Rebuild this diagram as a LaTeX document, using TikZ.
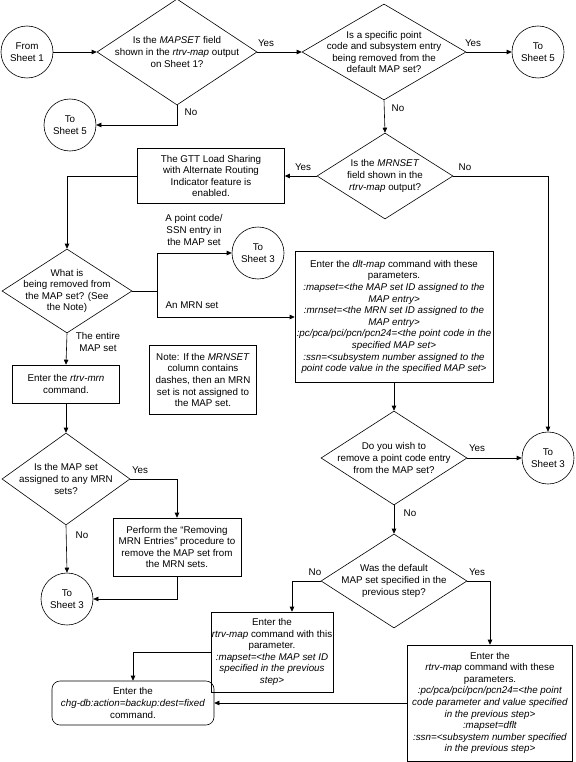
\documentclass[tikz,border=0pt]{standalone}
\usepackage{fontspec}
\setmainfont{Liberation Sans}
\usepackage{tikz}
\usetikzlibrary{shapes.geometric, arrows.meta, positioning, calc}

\begin{document}
\begin{tikzpicture}[x=1pt, y=-1pt,
  font=\fontsize{9.8}{11.6}\selectfont,
  term/.style={circle, draw, line width=0.6pt, minimum size=52pt, inner sep=0pt, align=center},
  proc/.style={rectangle, draw, line width=0.6pt, inner sep=1pt, align=center},
  dec/.style={diamond, draw, line width=0.6pt, inner sep=0pt},
  dtxt/.style={align=center, inner sep=0pt},
  rel/.style={draw, line width=0.6pt},
  arr/.style={rel, -{Triangle[length=5pt, width=4.5pt]}},
  lbl/.style={inner sep=0pt, align=center}
]
\useasboundingbox (0,0) rectangle (575,762);

% Top row
\node[term] (start) at (27,52) {From\\Sheet 1};
\node[dec, minimum width=160pt, minimum height=106pt] (d1) at (177,52) {};
\node[dtxt] (d1t) at (d1) {Is the \textit{MAPSET} field\\shown in the \textit{rtrv-map} output\\on Sheet 1?};
\node[term] (s5a) at (70,125) {To\\Sheet 5};
\node[dec, minimum width=164pt, minimum height=96pt] (d2) at (384,52) {};
\node[dtxt] (d2t) at (d2) {Is a specific point\\code and subsystem entry\\being removed from the\\default MAP set?};
\node[term] (s5b) at (538,52) {To\\Sheet 5};

% MRNSET check
\node[dec, minimum width=136pt, minimum height=86pt] (d3) at (385,176) {};
\node[dtxt] (d3t) at (d3) {Is the \textit{MRNSET}\\field shown in the\\\textit{rtrv-map} output?};
\node[proc, minimum width=147pt, minimum height=55pt] (gtt) at (211,176) {The GTT Load Sharing\\with Alternate Routing\\Indicator feature is\\enabled.};
\node[term] (s3a) at (548,458) {To\\Sheet 3};

% What is removed
\node[dec, minimum width=130pt, minimum height=84pt] (d4) at (67,291) {};
\node[dtxt] (d4t) at (d4) {What is\\being removed from\\the MAP set? (See\\the Note)};
\node[term] (s3b) at (258,253) {To\\Sheet 3};
\coordinate (jn) at (157,291);
\node[proc, minimum width=198pt, minimum height=131pt] (dlt) at (394,317) {Enter the \textit{dlt-map} command with these\\parameters.\\\textit{:mapset=<the MAP set ID assigned to the}\\\textit{MAP entry>}\\\textit{:mrnset=<the MRN set ID assigned to the}\\\textit{MAP entry>}\\\textit{:pc/pca/pci/pcn/pcn24=<the point code in the}\\\textit{specified MAP set>}\\\textit{:ssn=<subsystem number assigned to the}\\\textit{point code value in the specified MAP set>}};

% Entire MAP set branch
\node[proc, minimum width=107pt, minimum height=38pt] (mrn) at (66,384) {Enter the \textit{rtrv-mrn}\\command.};
\node[proc, minimum width=107pt, minimum height=69pt] (note) at (203,380) {Note: If the \textit{MRNSET}\\column contains\\dashes, then an MRN\\set is not assigned to\\the MAP set.};
\node[dec, minimum width=128pt, minimum height=92pt] (d5) at (66,479) {};
\node[dtxt] (d5t) at (d5) {Is the MAP set\\assigned to any MRN\\sets?};
\node[proc, minimum width=128pt, minimum height=58pt] (rem) at (177,547) {Perform the “Removing\\MRN Entries” procedure to\\remove the MAP set from\\the MRN sets.};
\node[term] (s3c) at (67,599) {To\\Sheet 3};

% Point code entry
\node[dec, minimum width=146pt, minimum height=94pt] (d6) at (394,458) {};
\node[dtxt] (d6t) at (d6) {Do you wish to\\remove a point code entry\\from the MAP set?};
\node[dec, minimum width=146pt, minimum height=94pt] (d7) at (394,581) {};
\node[dtxt] (d7t) at (d7) {Was the default\\MAP set specified in the\\previous step?};
\node[proc, minimum width=94pt, minimum height=80pt] (rm1) at (272,652) {Enter the\\\textit{rtrv-map} command with this\\parameter.\\\textit{:mapset=<the MAP set ID}\\\textit{specified in the previous}\\\textit{step>}};
\node[proc, minimum width=165pt, minimum height=116pt] (rm2) at (490,703) {Enter the\\\textit{rtrv-map} command with these\\parameters.\\\textit{:pc/pca/pci/pcn/pcn24=<the point}\\\textit{code parameter and value specified}\\\textit{in the previous step>}\\\textit{:mapset=dflt}\\\textit{:ssn=<subsystem number specified}\\\textit{in the previous step>}};
\node[proc, rounded corners=8pt, minimum width=162pt, minimum height=44pt] (chg) at (133,703) {Enter the\\\textit{chg-db:action=backup:dest=fixed}\\command.};

% Labels
\node[lbl] (y1) at (266,43) {Yes};
\node[lbl] (n1) at (191,112) {No};
\node[lbl] (y2) at (473,43) {Yes};
\node[lbl] (n2) at (398,108) {No};
\node[lbl] (y3) at (303,167) {Yes};
\node[lbl] (n3) at (465,167) {No};
\node[lbl] (ptc) at (194,230) {A point code/\\SSN entry in\\the MAP set};
\node[lbl] (mrnl) at (192,305) {An MRN set};
\node[lbl] (ent) at (98,342) {The entire\\MAP set};
\node[lbl] (y5) at (140,470) {Yes};
\node[lbl] (n5) at (82,535) {No};
\node[lbl] (y6) at (477,448) {Yes};
\node[lbl] (n6) at (410,513) {No};
\node[lbl] (n7) at (315,572) {No};
\node[lbl] (y7) at (477,572) {Yes};

% Connectors
\draw[arr] (start.east) -- (d1.west);
\draw[arr] (d1.east) -- (d2.west);
\draw[arr] (d1.south) |- (s5a.east);
\draw[arr] (d2.east) -- (s5b.west);
\draw[arr] (d2.south) -- (d3.north);
\draw[arr] (d3.west) -- (gtt.east);
\draw[arr] (d3.east) -| (s3a.north);
\draw[arr] (gtt.west) -| (d4.north);
\draw[rel] (d4.east) -- (jn);
\draw[arr] (jn) |- (s3b.west);
\draw[arr] (jn) |- (dlt.west);
\draw[arr] (d4.south) -- (mrn.north);
\draw[arr] (mrn.south) -- (d5.north);
\draw[arr] (d5.east) -| (rem.north);
\draw[arr] (d5.south) -- (s3c.north);
\draw[arr] (rem.south) |- (s3c.east);
\draw[arr] (dlt.south) -- (d6.north);
\draw[arr] (d6.east) -- (s3a.west);
\draw[arr] (d6.south) -- (d7.north);
\draw[arr] (d7.west) -| ([xshift=20pt]rm1.north);
\draw[arr] (d7.east) -| (rm2.north);
\draw[arr] (rm1.west) -| (chg.north);
\draw[arr] (rm2.west) -- (chg.east);

\end{tikzpicture}
\end{document}
